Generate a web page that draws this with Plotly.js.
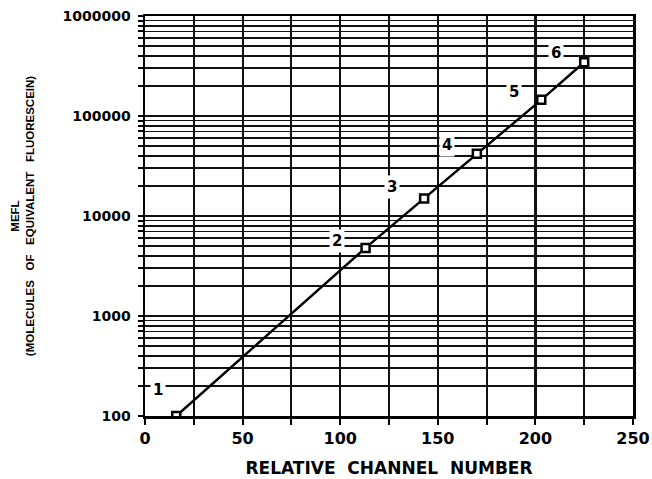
<!DOCTYPE html>
<html>
<head>
<meta charset="utf-8">
<script src="https://cdn.plot.ly/plotly-3.0.1.min.js"></script>
<style>html,body{margin:0;padding:0;background:#fff;}#chart{width:652px;height:479px;}</style>
</head>
<body>
<div id="chart"></div>
<script>
// Data
const channel = [16, 113, 143, 170, 203, 225];
const mefl = [100, 4800, 15000, 42000, 145000, 345000];
const pointLabels = ['1', '2', '3', '4', '5', '6'];

// Axis ticks
const xTickVals = [0, 25, 50, 75, 100, 125, 150, 175, 200, 225, 250];
const xTickText = ['0', '', '50', '', '100', '', '150', '', '200', '', '250'];
const decades = [100, 1000, 10000, 100000];
const decadeLabels = ['100', '1000', '10000', '100000', '1000000'];
const minorSteps = [1, 2, 3, 4, 5, 6, 7, 8, 9];

// label offsets (px) relative to their points
const labelShiftX = [-18, -29, -32, -30, -27, -28];
const labelShiftY = [26, 7, 11, 9, 8, 9];

const yTickVals = [];
const yTickText = [];
decades.forEach((d, i) => {
  minorSteps.forEach(m => {
    yTickVals.push(d * m);
    yTickText.push(m === 1 ? decadeLabels[i] : '');
  });
});
yTickVals.push(1000000);
yTickText.push(decadeLabels[decadeLabels.length - 1]);

const FONT = 'DejaVu Sans, sans-serif';

const trace = {
  x: channel,
  y: mefl,
  type: 'scatter',
  mode: 'lines+markers',
  line: {color: '#000', width: 2.5},
  marker: {symbol: 'square', size: 8, color: '#fff', line: {color: '#000', width: 2.5}},
  hoverinfo: 'x+y',
  showlegend: false
};

const annotations = pointLabels.map((t, i) => ({
  x: channel[i],
  y: Math.log10(mefl[i]),
  xref: 'x', yref: 'y',
  text: t,
  showarrow: false,
  xshift: labelShiftX[i],
  yshift: labelShiftY[i],
  bgcolor: '#fff',
  borderpad: 2,
  font: {family: FONT, size: 15, color: '#000', weight: 'bold'}
}));

const layout = {
  width: 652, height: 479,
  margin: {l: 145, r: 19, t: 16, b: 63},
  paper_bgcolor: '#fff',
  plot_bgcolor: '#fff',
  showlegend: false,
  xaxis: {
    range: [0, 250],
    tickvals: xTickVals,
    ticktext: xTickText,
    ticks: 'outside', ticklen: 6, tickwidth: 2, tickcolor: '#000',
    showgrid: true, gridcolor: '#111', gridwidth: 2.2,
    zeroline: false,
    showline: true, linecolor: '#000', linewidth: 2.5, mirror: true,
    tickfont: {family: FONT, size: 16, color: '#000', weight: 'bold'},
    title: {text: 'RELATIVE\u00A0 CHANNEL\u00A0 NUMBER', standoff: 16,
            font: {family: FONT, size: 17, color: '#000', weight: 'bold'}}
  },
  yaxis: {
    type: 'log',
    range: [2, 6],
    tickvals: yTickVals,
    ticktext: yTickText,
    ticks: 'outside', ticklen: 5, tickwidth: 2, tickcolor: '#000',
    ticklabelstandoff: 4,
    showgrid: true, gridcolor: '#111', gridwidth: 1.7,
    zeroline: false,
    showline: true, linecolor: '#000', linewidth: 2.5, mirror: true,
    tickfont: {family: FONT, size: 14, color: '#000', weight: 'bold'},
    title: {text: 'MEFL<br>(MOLECULES\u00A0\u00A0 OF\u00A0\u00A0 EQUIVALENT\u00A0\u00A0 FLUORESCEIN)', standoff: 26,
            font: {family: 'Liberation Sans, Arial, sans-serif', size: 11.5, color: '#000', weight: 'bold'}}
  },
  annotations: annotations
};

Plotly.newPlot('chart', [trace], layout, {displayModeBar: false, staticPlot: true});
</script>
</body>
</html>
